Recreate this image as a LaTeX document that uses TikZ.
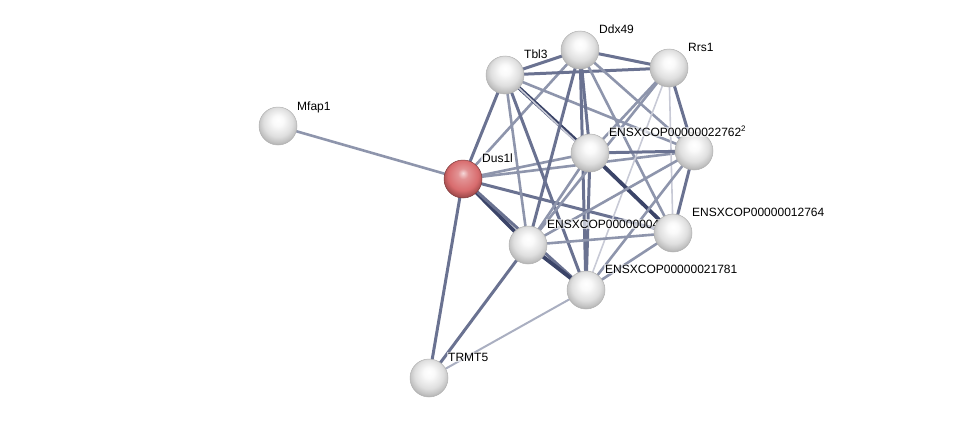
\documentclass[tikz,border=0pt]{standalone}
\usepackage{fontspec}
\setmainfont{Liberation Sans}
\definecolor{eA}{HTML}{C8CAD6}
\definecolor{eB}{HTML}{8E95AC}
\definecolor{eC}{HTML}{6A7291}
\definecolor{eD}{HTML}{3B4468}
\definecolor{redball}{RGB}{214,100,102}
\pgfdeclareradialshading{protsphere}{\pgfqpoint{0bp}{8bp}}{color(0bp)=(white); color(7bp)=(white!96!gray); color(19bp)=(gray!25); color(26bp)=(gray!50); color(32bp)=(gray!80); color(50bp)=(gray!80)}
\pgfdeclareradialshading{querysphere}{\pgfqpoint{0bp}{8bp}}{color(0bp)=(redball!25!white); color(7bp)=(redball!70!white); color(20bp)=(redball!95!white); color(26bp)=(redball!80!black); color(33bp)=(redball!50!black); color(50bp)=(redball!50!black)}
\begin{document}
\begin{tikzpicture}[x=1pt,y=-1pt,
  prot/.style={circle,minimum size=38pt,inner sep=0pt,shading=protsphere,draw=gray!60,line width=0.5pt},
  query/.style={prot,shading=querysphere,draw=redball!60!black},
  lab/.style={font=\fontsize{12}{12}\selectfont,anchor=base west,inner sep=1pt,fill=white,fill opacity=0.6,text opacity=1},
  wA/.style={draw=eA,line width=1.6pt},
  wB/.style={draw=eB,line width=2.6pt},
  wC/.style={draw=eC,line width=3pt},
  wD/.style={draw=eD,line width=3.8pt}]
\useasboundingbox (0,0) rectangle (976,423);
% coordinates
\coordinate (M) at (278,126);
\coordinate (D) at (463,179);
\coordinate (T) at (505,75);
\coordinate (X) at (580,50);
\coordinate (R) at (669,68);
\coordinate (C) at (590,153);
\coordinate (E) at (694,151);
\coordinate (F) at (528,245);
\coordinate (G) at (673,233);
\coordinate (H) at (586,290);
\coordinate (P) at (429,378);
% edges
\draw[wB] (M) -- (D);
\draw[wC] (D) -- (T);
\draw[wB] (D) -- (X);
\draw[wB] (D) -- (C);
\draw[wB] (D) -- (E);
\draw[wC] (D) -- (G);
\draw[wD] (D) -- (F);
\draw[wC] (D) -- (H);
\draw[wC] (D) -- (P);
\draw[wC] (P) -- (F);
\draw[draw=eB!75!white,line width=2pt] (P) -- (H);
\draw[wC] (T) -- (X);
\draw[wC] (T) -- (R);
\draw[wD] (T) -- (C);
\draw[wB] (T) -- (E);
\draw[wB] (T) -- (F);
\draw[wA] (T) -- (G);
\draw[wC] (T) -- (H);
\draw[wC] (X) -- (R);
\draw[wC] (X) -- (C);
\draw[wB] (X) -- (E);
\draw[wC] (X) -- (F);
\draw[wB] (X) -- (G);
\draw[wC] (X) -- (H);
\draw[wB] (R) -- (C);
\draw[wC] (R) -- (E);
\draw[wB] (R) -- (F);
\draw[wA] (R) -- (G);
\draw[wA] (R) -- (H);
\draw[wC] (C) -- (E);
\draw[wB] (C) -- (F);
\draw[wD] (C) -- (G);
\draw[wC] (C) -- (H);
\draw[wB] (E) -- (F);
\draw[wC] (E) -- (G);
\draw[wB] (E) -- (H);
\draw[wB] (F) -- (G);
\draw[wD] (F) -- (H);
\draw[wB] (G) -- (H);
% nodes and labels
\node[prot] (nM) at (M) {};
\node[lab] (lM) at (296,110) {Mfap1};
\node[query] (nD) at (D) {};
\node[lab] (lD) at (481,162) {Dus1l};
\node[prot] (nT) at (T) {};
\node[lab] (lT) at (523,58) {Tbl3};
\node[prot] (nX) at (X) {};
\node[lab] (lX) at (598,33) {Ddx49};
\node[prot] (nR) at (R) {};
\node[lab] (lR) at (687,51) {Rrs1};
\node[prot] (nF) at (F) {};
\node[lab] (lF) at (546,228) {ENSXCOP00000004};
\node[prot] (nG) at (G) {};
\node[lab] (lG) at (691,216) {ENSXCOP00000012764};
\node[prot] (nH) at (H) {};
\node[lab] (lH) at (604,273) {ENSXCOP00000021781};
\node[prot] (nP) at (P) {};
\node[lab] (lP) at (447,361) {TRMT5};
\node[prot] (nE) at (E) {};
\node[prot] (nC) at (C) {};
\node[lab] (lC) at (608,136) {ENSXCOP00000022762};
\node[anchor=base west,inner sep=0pt,font=\fontsize{8}{8}\selectfont] (lE) at (741,131) {2};
\end{tikzpicture}
\end{document}
